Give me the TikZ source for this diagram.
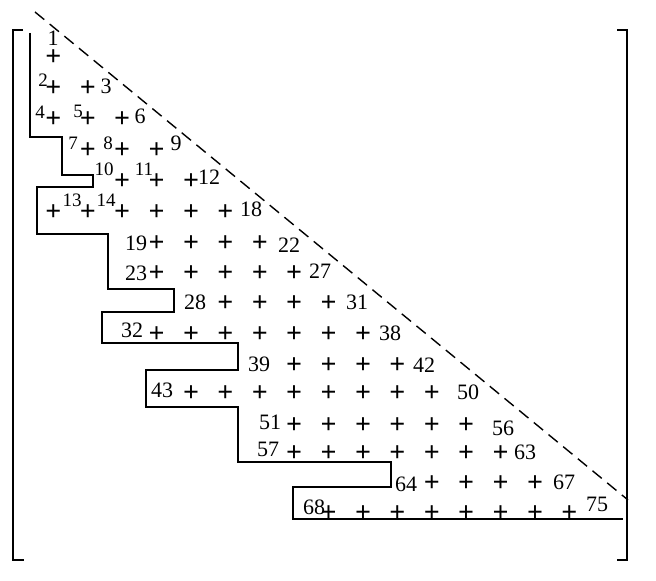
\documentclass[tikz,border=0pt]{standalone}
\usepackage{fontspec}
\setmainfont{Liberation Serif}
\usetikzlibrary{positioning}

\begin{document}
\begin{tikzpicture}[x=0.5pt, y=-0.5pt,
	cruz/.style={inner sep=0pt, font=\fontsize{14}{16}\selectfont\bfseries},
	num/.style={inner sep=0pt, font=\fontsize{11}{13}\selectfont},
	numsup/.style={inner sep=0pt, font=\fontsize{9.5}{11}\selectfont},
	borde/.style={line width=0.8pt},
	diag/.style={line width=0.7pt, dash pattern=on 6pt off 3.5pt}]
	\useasboundingbox (0,0) rectangle (656,581);
	% corchetes
	\draw[borde] (23,30) -- (13,30) -- (13,560) -- (24,560);
	\draw[borde] (617,30) -- (627,30) -- (627,560) -- (617,560);
	% diagonal
	\draw[diag] (35,12) -- (628,500);
	% escalera
	\draw[borde] (30,33) -- (30,137) -- (62,137) -- (62,175) -- (93,175) -- (93,187)
		-- (37,187) -- (37,234) -- (108,234) -- (108,289) -- (174,289) -- (174,312)
		-- (102,312) -- (102,343) -- (238,343) -- (238,370) -- (146,370) -- (146,407)
		-- (238,407) -- (238,462) -- (391,462) -- (391,487) -- (293,487) -- (293,519)
		-- (623,519);
	% entradas: fila y / primera col / ultima col / primer indice
	\foreach \y/\a/\b/\k in {58/1/1/1, 89/1/2/2, 120/1/3/4, 151/2/4/7, 182/3/5/10,
		213/1/6/13, 244/4/7/19, 274/4/8/23, 304/6/9/28, 335/4/10/32, 366/8/11/39,
		394/5/12/43, 426/8/13/51, 454/8/14/57, 484/12/15/64, 514/9/16/68}
		\foreach \c [count=\i from 0] in {\a,...,\b} {
			\pgfmathtruncatemacro\n{\k+\i}
			\node[cruz] (p\n) at ({19+34.4*\c},\y) {+};
		}
	% numeros
	\node[num]    (n1)  at (53,38)   {1};
	\node[numsup] (n2)  at (43,80)   {2};
	\node[num]    (n3)  at (106,86)  {3};
	\node[numsup] (n4)  at (40,112)  {4};
	\node[numsup] (n5)  at (78,111)  {5};
	\node[num]    (n6)  at (140,116) {6};
	\node[numsup] (n7)  at (73,143)  {7};
	\node[numsup] (n8)  at (108,143) {8};
	\node[num]    (n9)  at (176,143) {9};
	\node[numsup] (n10) at (104,169) {10};
	\node[numsup] (n11) at (144,169) {11};
	\node[num]    (n12) at (209,177) {12};
	\node[numsup] (n13) at (72,200)  {13};
	\node[numsup] (n14) at (106,200) {14};
	\node[num]    (n18) at (251,209) {18};
	\node[num]    (n19) at (136,243) {19};
	\node[num]    (n22) at (289,245) {22};
	\node[num]    (n23) at (136,273) {23};
	\node[num]    (n27) at (320,271) {27};
	\node[num]    (n28) at (195,302) {28};
	\node[num]    (n31) at (357,302) {31};
	\node[num]    (n32) at (132,330) {32};
	\node[num]    (n38) at (390,333) {38};
	\node[num]    (n39) at (259,364) {39};
	\node[num]    (n42) at (424,365) {42};
	\node[num]    (n43) at (162,390) {43};
	\node[num]    (n50) at (468,392) {50};
	\node[num]    (n51) at (270,422) {51};
	\node[num]    (n56) at (503,428) {56};
	\node[num]    (n57) at (268,449) {57};
	\node[num]    (n63) at (525,452) {63};
	\node[num]    (n64) at (406,484) {64};
	\node[num]    (n67) at (564,482) {67};
	\node[num]    (n68) at (314,507) {68};
	\node[num]    (n75) at (597,504) {75};
\end{tikzpicture}
\end{document}
